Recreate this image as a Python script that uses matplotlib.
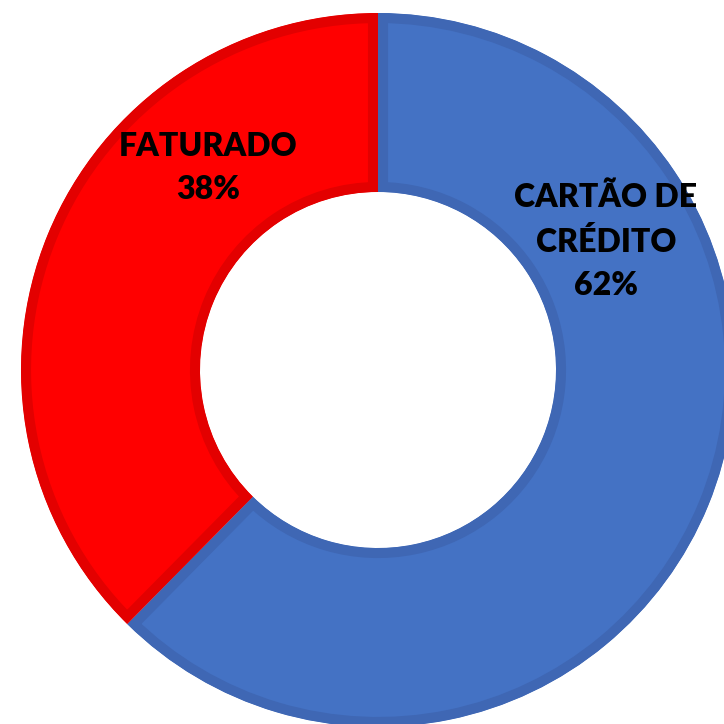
import matplotlib
matplotlib.use("Agg")
import matplotlib.pyplot as plt

categories = ["CARTÃO DE\nCRÉDITO", "FATURADO"]
values = [62.4, 37.6]
colors = ["#4472C4", "#FF0000"]
edge_colors = ["#3F67B4", "#E30000"]

fig = plt.figure(figsize=(7.24, 7.24), dpi=100)
ax = fig.add_axes([0, 0, 1, 1])
ax.axis("off")

cx, cy = 378, 724 - 370
wedges, _ = ax.pie(values, startangle=90, counterclock=False, colors=colors,
                   center=(cx, cy), radius=357,
                   wedgeprops=dict(width=179, linewidth=14.5))
for w, ec in zip(wedges, edge_colors):
    w.set_edgecolor(ec)
    w.set_clip_on(True)
    w.set_clip_path(w)
ax.set_xlim(0, 724)
ax.set_ylim(0, 724)
ax.set_aspect("equal")

total = sum(values)
label_pos = [(606, 724 - 241), (208, 724 - 168)]
for cat, v, (x, y) in zip(categories, values, label_pos):
    ax.text(x, y, f"{cat}\n{round(100 * v / total)}%", ha="center", va="center",
            fontsize=23, fontweight="heavy", family="Lato", linespacing=1.6,
            color="black")

fig.savefig("out.png", dpi=100)
